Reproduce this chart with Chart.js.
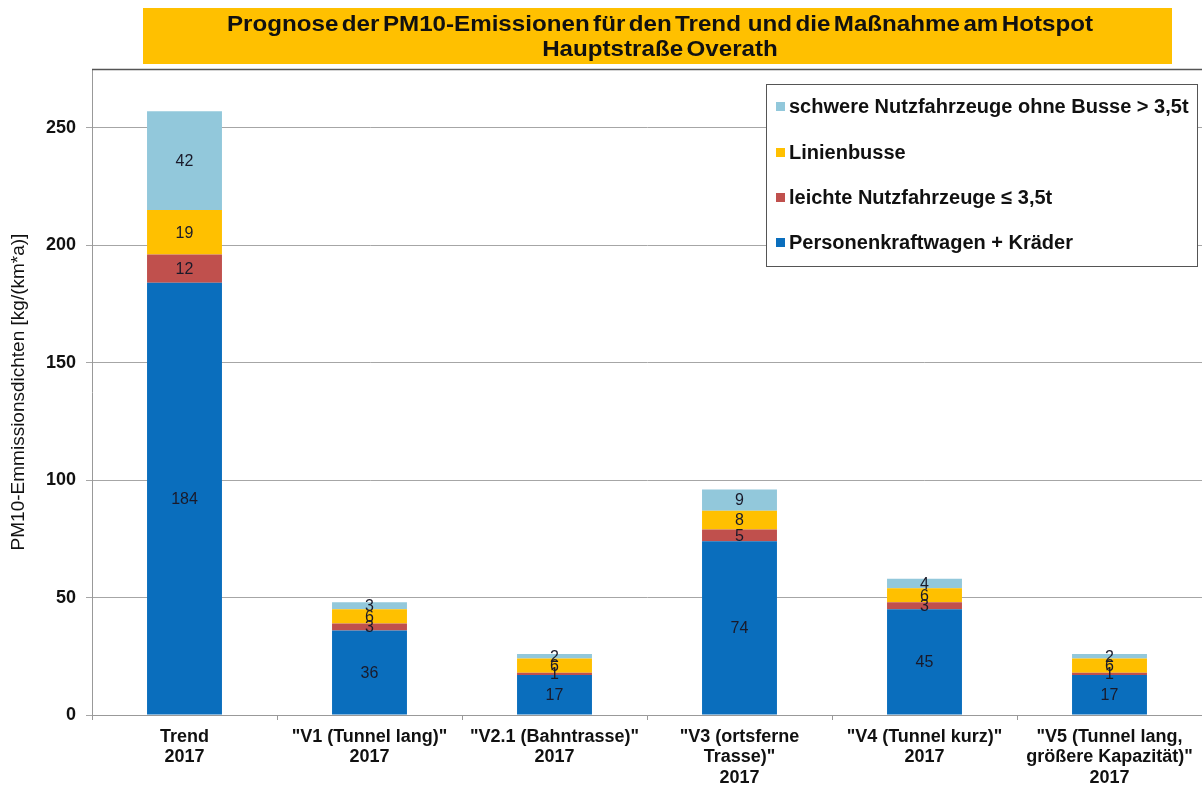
<!DOCTYPE html>
<html>
<head>
<meta charset="utf-8">
<script src="https://cdn.jsdelivr.net/npm/chart.js@4/dist/chart.umd.min.js"></script>
<style>
  html, body { margin: 0; padding: 0; background: #fff; }
  #wrap { width: 1202px; height: 787px; }
</style>
</head>
<body>
<div id="wrap"><canvas id="c" width="1202" height="787"></canvas></div>
<script>
const categories = [
  ['Trend', '2017'],
  ['"V1 (Tunnel lang)"', '2017'],
  ['"V2.1 (Bahntrasse)"', '2017'],
  ['"V3 (ortsferne', 'Trasse)"', '2017'],
  ['"V4 (Tunnel kurz)"', '2017'],
  ['"V5 (Tunnel lang,', 'größere Kapazität)"', '2017']
];
const pkw   = [184, 36, 17, 74, 45, 17];
const lnf   = [12, 3, 1, 5, 3, 1];
const busse = [19, 6, 6, 8, 6, 6];
const snf   = [42, 3, 2, 9, 4, 2];
const yTicks = [0, 50, 100, 150, 200, 250];

const titleLines = ['Prognose der PM10-Emissionen für den Trend  und die Maßnahme am Hotspot', 'Hauptstraße Overath'];
const yTitle = 'PM10-Emmissionsdichten [kg/(km*a)]';

const seriesLabels = [
  'Personenkraftwagen + Kräder',
  'leichte Nutzfahrzeuge \u2264 3,5t',
  'Linienbusse',
  'schwere Nutzfahrzeuge ohne Busse > 3,5t'
];
const seriesColors = ['#0A6EBD', '#C0504D', '#FFC000', '#92C8DB'];

const FONT = '"Liberation Sans", Arial, sans-serif';

const overlay = {
  id: 'overlay',
  afterDatasetsDraw(chart) {
    const ctx = chart.ctx;
    const area = chart.chartArea;
    ctx.save();
    // plot area top border
    ctx.strokeStyle = '#555';
    ctx.lineWidth = 1.5;
    ctx.beginPath();
    ctx.moveTo(area.left, area.top + 0.5);
    ctx.lineTo(area.right, area.top + 0.5);
    ctx.stroke();

    // data labels
    ctx.font = '16px ' + FONT;
    ctx.fillStyle = '#1a1a2a';
    ctx.textAlign = 'center';
    ctx.textBaseline = 'middle';
    chart.data.datasets.forEach((ds, di) => {
      const meta = chart.getDatasetMeta(di);
      meta.data.forEach((bar, i) => {
        const yc = (bar.y + bar.base) / 2;
        ctx.fillText(String(ds.data[i]), bar.x, yc + 1);
      });
    });

    // title box
    ctx.fillStyle = '#FFC000';
    ctx.fillRect(143, 8, 1029, 56);
    ctx.fillStyle = '#111';
    ctx.font = 'bold 22px ' + FONT;
    if ('wordSpacing' in ctx) ctx.wordSpacing = '-3px';
    const sx = 866 / ctx.measureText(titleLines[0]).width;
    titleLines.forEach((t, k) => {
      ctx.save();
      ctx.translate(660, k === 0 ? 25 : 50);
      ctx.scale(sx, 1);
      ctx.fillText(t, 0, 0);
      ctx.restore();
    });
    if ('wordSpacing' in ctx) ctx.wordSpacing = '0px';

    // legend box
    const lx = 766, ly = 84, lw = 431, lh = 182;
    ctx.fillStyle = '#fff';
    ctx.fillRect(lx, ly, lw, lh);
    ctx.strokeStyle = '#555';
    ctx.lineWidth = 1;
    ctx.strokeRect(lx + 0.5, ly + 0.5, lw, lh);
    ctx.font = 'bold 20px ' + FONT;
    ctx.textAlign = 'left';
    const order = [3, 2, 1, 0];
    const rows = [106, 152, 197, 242];
    order.forEach((di, r) => {
      const ds = chart.data.datasets[di];
      ctx.fillStyle = ds.backgroundColor;
      ctx.fillRect(776, rows[r] - 4, 9, 9);
      ctx.fillStyle = '#111';
      ctx.fillText(ds.label, 789, rows[r] + 1);
    });
    ctx.restore();
  }
};

new Chart(document.getElementById('c'), {
  type: 'bar',
  data: {
    labels: categories,
    datasets: [
      { label: seriesLabels[0], data: pkw,   backgroundColor: seriesColors[0] },
      { label: seriesLabels[1], data: lnf,   backgroundColor: seriesColors[1] },
      { label: seriesLabels[2], data: busse, backgroundColor: seriesColors[2] },
      { label: seriesLabels[3], data: snf,   backgroundColor: seriesColors[3] }
    ]
  },
  options: {
    responsive: false,
    animation: false,
    layout: { padding: { top: 69, right: 0, left: 0, bottom: 0 } },
    datasets: { bar: { categoryPercentage: 1.0, barPercentage: 0.405, borderWidth: 0 } },
    plugins: { legend: { display: false }, title: { display: false }, tooltip: { enabled: false } },
    scales: {
      x: {
        stacked: true,
        afterFit(s) { s.height = 72; },
        grid: { display: true, drawOnChartArea: false, drawTicks: true, tickLength: 5, color: '#999', offset: true },
        border: { display: true, color: '#999', width: 1 },
        ticks: {
          color: '#111',
          font: { family: FONT, size: 18, weight: 'bold', lineHeight: 1.13 },
          padding: 7,
          maxRotation: 0,
          autoSkip: false
        }
      },
      y: {
        stacked: true,
        min: 0,
        max: 275,
        afterFit(s) { s.width = 92; },
        afterBuildTicks(s) { s.ticks = yTicks.map(v => ({ value: v })); },
        grid: { color: '#A6A6A6', lineWidth: 1, tickLength: 6, drawTicks: true },
        border: { display: true, color: '#999', width: 1 },
        ticks: {
          color: '#111',
          font: { family: FONT, size: 18, weight: 'bold' },
          padding: 10,
          includeBounds: false
        },
        title: {
          display: true,
          text: yTitle,
          color: '#111',
          font: { family: FONT, size: 19 },
          padding: { top: 7, bottom: 0 }
        }
      }
    }
  },
  plugins: [overlay]
});
</script>
</body>
</html>
